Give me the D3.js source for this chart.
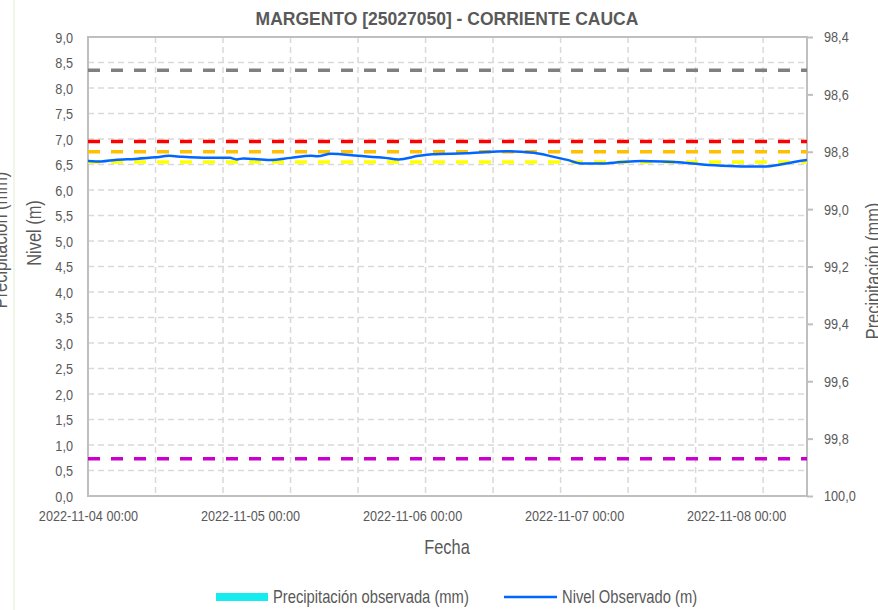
<!DOCTYPE html>
<html>
<head>
<meta charset="utf-8">
<script src="https://cdn.jsdelivr.net/npm/d3@7"></script>
<style>
  body { margin: 0; background: #fff; }
  text { font-family: "Liberation Sans", Arial, sans-serif; fill: #595959; }
</style>
</head>
<body>
<svg id="chart" width="878" height="610"></svg>
<script>
// level readings (m)
const fechas = [
  "2022-11-04 00:00", "2022-11-04 02:00", "2022-11-04 04:00", "2022-11-04 07:00",
  "2022-11-04 10:00", "2022-11-04 12:00", "2022-11-04 14:00", "2022-11-04 18:00",
  "2022-11-04 21:00", "2022-11-04 22:00", "2022-11-04 23:00", "2022-11-05 03:00",
  "2022-11-05 06:00", "2022-11-05 09:00", "2022-11-05 10:00", "2022-11-05 12:00",
  "2022-11-05 16:00", "2022-11-05 20:00", "2022-11-05 22:00", "2022-11-06 01:00",
  "2022-11-06 03:00", "2022-11-06 08:00", "2022-11-06 12:00", "2022-11-06 14:00",
  "2022-11-06 18:00", "2022-11-06 21:00", "2022-11-06 23:00", "2022-11-07 01:00",
  "2022-11-07 04:00", "2022-11-07 07:00", "2022-11-07 10:00", "2022-11-07 13:00",
  "2022-11-07 16:00", "2022-11-07 19:00", "2022-11-07 23:00", "2022-11-08 02:00",
  "2022-11-08 04:00", "2022-11-08 07:00", "2022-11-08 09:00", "2022-11-08 10:30"
];
const nivel = [
  6.57, 6.56, 6.59, 6.61, 6.64, 6.67, 6.65, 6.63,
  6.63, 6.60, 6.62, 6.59, 6.63, 6.67, 6.66, 6.71,
  6.67, 6.63, 6.60, 6.67, 6.70, 6.72, 6.75, 6.76,
  6.73, 6.65, 6.59, 6.52, 6.52, 6.55, 6.57, 6.56,
  6.54, 6.50, 6.47, 6.46, 6.46, 6.51, 6.56, 6.59
];
// reference levels drawn as dashed lines
const umbrales = [8.35, 6.95, 6.75, 6.55, 0.73];
const umbralColores = ["#808080", "#ff0000", "#ffc000", "#ffff00", "#cc00cc"];

const nivelTicks = d3.range(0, 9.01, 0.5);
const precipTicks = [98.4, 98.6, 98.8, 99.0, 99.2, 99.4, 99.6, 99.8, 100.0];
const fechaTicks = ["2022-11-04 00:00", "2022-11-05 00:00", "2022-11-06 00:00", "2022-11-07 00:00", "2022-11-08 00:00"];
const dominioFecha = ["2022-11-04 00:00", "2022-11-08 10:30"];

const parse = d3.timeParse("%Y-%m-%d %H:%M");
const fmtTime = d3.timeFormat("%Y-%m-%d %H:%M");
const coma = d3.formatLocale({ decimal: ",", thousands: ".", grouping: [3], currency: ["", ""] }).format(".1f");

const svg = d3.select("#chart");
const margin = { top: 37, right: 71, bottom: 114, left: 88 };
const W = +svg.attr("width"), H = +svg.attr("height");
const x0 = margin.left, x1 = W - margin.right, y0 = margin.top, y1 = H - margin.bottom;

const x = d3.scaleTime().domain(dominioFecha.map(parse)).range([x0, x1]);
const y = d3.scaleLinear().domain([0, 9]).range([y1, y0]);
const yR = d3.scaleLinear().domain([98.4, 100]).range([y0, y1]);

// no narrow font installed -> squeeze regular sans horizontally
const K = 0.82;
function narrow(sel) {
  sel.each(function () {
    const t = d3.select(this);
    t.attr("x", (+t.attr("x") || 0) / K).attr("transform", `scale(${K},1)`);
  });
}
function label(str, tx, ty, rot, size) {
  return svg.append("text")
    .attr("transform", `translate(${tx},${ty})` + (rot ? ` rotate(${rot})` : "") + ` scale(${K},1)`)
    .style("font-size", size + "px").text(str);
}

// faint page edge line on the left
svg.append("rect").attr("x", 13).attr("y", 0).attr("width", 2).attr("height", H).attr("fill", "#eff6e8");

// grid
const gridStart = parse(dominioFecha[0]);
const gridTimes = d3.range(10, 107, 10).map(h => d3.timeHour.offset(gridStart, h));
svg.append("g").selectAll("line").data(nivelTicks.slice(1)).join("line")
  .attr("x1", x0).attr("x2", x1).attr("y1", d => y(d)).attr("y2", d => y(d))
  .attr("stroke", "#d9d9d9").attr("stroke-width", 1.5).attr("stroke-dasharray", "6,4");
svg.append("g").selectAll("line").data(gridTimes).join("line")
  .attr("x1", d => x(d)).attr("x2", d => x(d)).attr("y1", y0).attr("y2", y1)
  .attr("stroke", "#d9d9d9").attr("stroke-width", 1.5).attr("stroke-dasharray", "6,4");

// frame
svg.append("rect").attr("x", x0).attr("y", y0).attr("width", x1 - x0).attr("height", y1 - y0)
  .attr("fill", "none").attr("stroke", "#bfbfbf").attr("stroke-width", 2);

// threshold lines
svg.append("g").selectAll("line").data(umbrales).join("line")
  .attr("x1", x0).attr("x2", x1).attr("y1", d => y(d)).attr("y2", d => y(d))
  .attr("stroke", (d, i) => umbralColores[i]).attr("stroke-width", 3.5)
  .attr("stroke-dasharray", "12,11");

// level line
const serie = fechas.map((f, i) => ({ t: parse(f), v: nivel[i] }));
svg.append("path").datum(serie)
  .attr("fill", "none").attr("stroke", "#0066ff").attr("stroke-width", 2.5)
  .attr("stroke-linejoin", "round")
  .attr("d", d3.line().x(d => x(d.t)).y(d => y(d.v)).curve(d3.curveMonotoneX));

// axes
const axL = svg.append("g").attr("transform", `translate(${x0 - 15},0)`)
  .call(d3.axisLeft(y).tickValues(nivelTicks).tickFormat(coma).tickSize(0).tickPadding(0));
axL.select(".domain").remove();
axL.selectAll("text").attr("dy", "0.35em").style("font-size", "15.5px").style("fill", "#595959").call(narrow);

const axR = svg.append("g").attr("transform", `translate(${x1},0)`)
  .call(d3.axisRight(yR).tickValues(precipTicks).tickFormat(coma).tickSize(6).tickPadding(11));
axR.select(".domain").remove();
axR.selectAll("line").attr("stroke", "#bfbfbf").attr("stroke-width", 2);
axR.selectAll("text").style("font-size", "15.5px").style("fill", "#595959").call(narrow);

const axB = svg.append("g").attr("transform", `translate(0,${y1})`)
  .call(d3.axisBottom(x).tickValues(fechaTicks.map(parse)).tickFormat(fmtTime).tickSize(0).tickPadding(14));
axB.select(".domain").remove();
axB.selectAll("text").style("font-size", "15.5px").style("fill", "#595959").call(narrow);

// titles
svg.append("text").attr("x", 447).attr("y", 25).attr("text-anchor", "middle")
  .style("font-size", "17.5px").style("font-weight", "bold").text("MARGENTO [25027050] - CORRIENTE CAUCA");
label("Fecha", 447, 554, 0, 20).attr("text-anchor", "middle");
label("Nivel (m)", 41, 233, -90, 20).attr("text-anchor", "middle");
label("Precipitación (mm)", 7, 240, -90, 20).attr("text-anchor", "middle");
label("Precipitación (mm)", 880, 271, -90, 20).attr("text-anchor", "middle");

// legend
const leg = svg.append("g");
leg.append("rect").attr("x", 216).attr("y", 593).attr("width", 52).attr("height", 8).attr("fill", "#14ecf0");
label("Precipitación observada (mm)", 273, 603, 0, 18);
leg.append("line").attr("x1", 504).attr("x2", 557).attr("y1", 597).attr("y2", 597)
  .attr("stroke", "#0066ff").attr("stroke-width", 2.5);
label("Nivel Observado (m)", 562, 603, 0, 18);
</script>
</body>
</html>
